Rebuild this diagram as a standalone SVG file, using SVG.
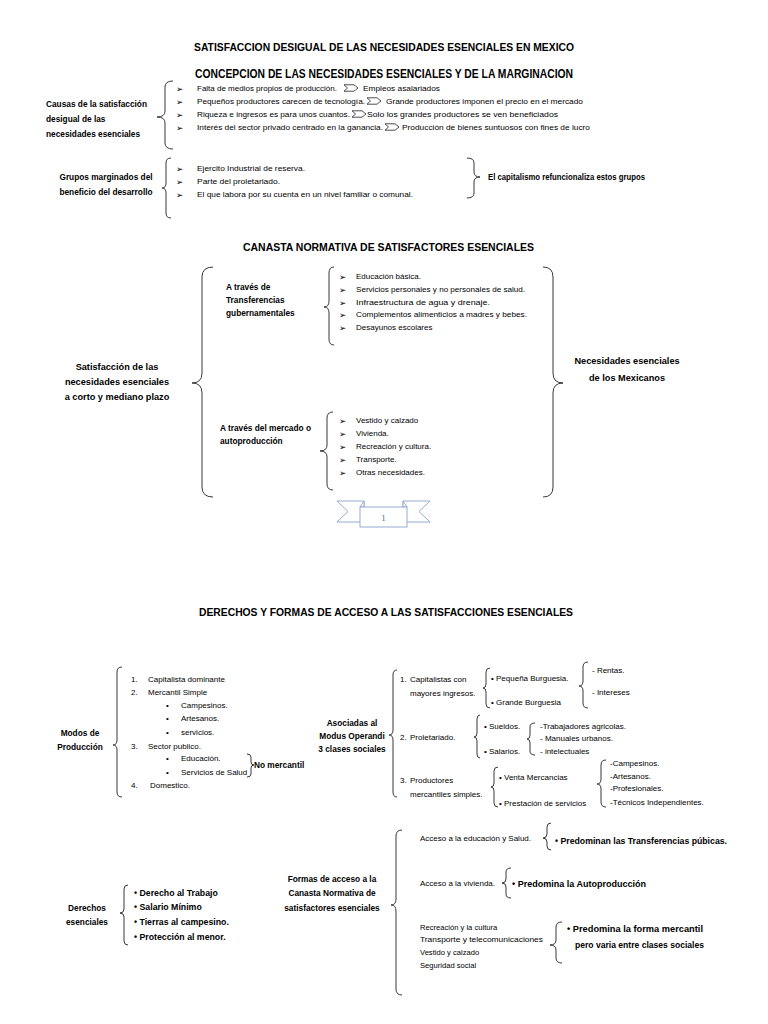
<svg xmlns="http://www.w3.org/2000/svg" width="768" height="1024" viewBox="0 0 768 1024">
<style>
.t{font-family:"Liberation Sans",Arial,sans-serif;font-size:8px;fill:#000}
.s{font-family:"Liberation Sans",Arial,sans-serif;font-size:7.6px;fill:#000}
.b{font-family:"Liberation Sans",Arial,sans-serif;font-size:8.3px;font-weight:bold;fill:#000}
.bm{font-family:"Liberation Sans",Arial,sans-serif;font-size:9.2px;font-weight:bold;fill:#000}
.bl{font-family:"Liberation Sans",Arial,sans-serif;font-size:9.6px;font-weight:bold;fill:#000}
.h{font-family:"Liberation Sans",Arial,sans-serif;font-size:11.5px;font-weight:bold;fill:#000}
.c{text-anchor:middle}
.ar{font-family:"DejaVu Sans",sans-serif;font-size:8.5px;font-weight:bold;fill:#000}
.br{fill:none;stroke:#222;stroke-width:0.9;stroke-linejoin:round}
.na{fill:#fff;stroke:#222;stroke-width:0.8}
.rb{fill:#fff;stroke:#8ba3cc;stroke-width:0.9}
.pg{font-family:"Liberation Serif","Times New Roman",serif;font-size:9px;fill:#4f6fa0}
</style>
<defs>
<path id="notch" d="M0,-3.2 L10,-3.2 L14,0 L10,3.2 L0,3.2 L3.5,0 Z"/>
</defs>
<rect width="768" height="1024" fill="#fff"/>

<g id="titles">
<text class="h c" x="384" y="50.5" textLength="380" lengthAdjust="spacingAndGlyphs">SATISFACCION DESIGUAL DE LAS NECESIDADES ESENCIALES EN MEXICO</text>
<text class="h c" x="384" y="78" style="font-size:12.5px" textLength="378" lengthAdjust="spacingAndGlyphs">CONCEPCION DE LAS NECESIDADES ESENCIALES Y DE LA MARGINACION</text>
<text class="h c" x="388.5" y="250.5" textLength="291" lengthAdjust="spacingAndGlyphs">CANASTA NORMATIVA DE SATISFACTORES ESENCIALES</text>
<text class="h c" x="386" y="615.5" textLength="374" lengthAdjust="spacingAndGlyphs">DERECHOS Y FORMAS DE ACCESO A LAS SATISFACCIONES ESENCIALES</text>
</g>

<g id="connectors">
<path class="br" d="M173,81 Q165,81 165,87 L165,111 Q165,117 157,117 Q165,117 165,123 L165,143 Q165,149 173,149"/>
<path class="br" d="M171,158 Q166,158 166,163 L166,183 Q166,188 162,188 Q166,188 166,193 L166,213 Q166,218 171,218"/>
<path class="br" d="M467,158 Q474,158 474,163 L474,172 Q474,177 480,177 Q474,177 474,182 L474,193 Q474,198 467,198"/>
<path class="br" d="M213,267 Q202,267 202,277 L202,373 Q202,383 192,383 Q202,383 202,393 L202,487 Q202,497 213,497"/>
<path class="br" d="M334,267 Q329,267 329,273 L329,301 Q329,307 324,307 Q329,307 329,313 L329,339 Q329,345 334,345"/>
<path class="br" d="M333,412 Q327,412 327,418 L327,445 Q327,451 320,451 Q327,451 327,457 L327,484 Q327,490 333,490"/>
<path class="br" d="M543,267 Q553,267 553,277 L553,373 Q553,383 563,383 Q553,383 553,393 L553,487 Q553,497 543,497"/>
<path class="br" d="M122,667 Q117,667 117,672 L117,740 Q117,745 113,745 Q117,745 117,750 L117,792 Q117,797 122,797"/>
<path class="br" d="M247,754 Q251,754 251,757 L251,762 Q251,765 254,765 Q251,765 251,768 L251,774 Q251,777 247,777"/>
<path class="br" d="M397,670 Q393,670 393,675 L393,730 Q393,735 389,735 Q393,735 393,740 L393,792 Q393,797 397,797"/>
<path class="br" d="M490,668 Q486,668 486,672 L486,684 Q486,688 483,688 Q486,688 486,692 L486,704 Q486,708 490,708"/>
<path class="br" d="M588,662 Q583,662 583,667 L583,681 Q583,686 579,686 Q583,686 583,691 L583,703 Q583,708 588,708"/>
<path class="br" d="M480,715 Q477,715 477,719 L477,733 Q477,737 474,737 Q477,737 477,741 L477,754 Q477,758 480,758"/>
<path class="br" d="M535,723 Q530,723 530,727 L530,735 Q530,739 527,739 Q530,739 530,743 L530,751 Q530,755 535,755"/>
<path class="br" d="M498,767 Q494,767 494,771 L494,783 Q494,787 491,787 Q494,787 494,791 L494,803 Q494,807 498,807"/>
<path class="br" d="M606,760 Q601,760 601,765 L601,779 Q601,784 597,784 Q601,784 601,789 L601,802 Q601,807 606,807"/>
<path class="br" d="M128,885 Q124,885 124,889 L124,909 Q124,913 120,913 Q124,913 124,917 L124,941 Q124,945 128,945"/>
<path class="br" d="M402,830 Q396,830 396,836 L396,899 Q396,905 391,905 Q396,905 396,911 L396,989 Q396,995 402,995"/>
<path class="br" d="M551,823 Q547,823 547,827 L547,834 Q547,838 543,838 Q547,838 547,842 L547,846 Q547,850 551,850"/>
<path class="br" d="M511,868 Q506,868 506,872 L506,879 Q506,883 502,883 Q506,883 506,887 L506,894 Q506,898 511,898"/>
<path class="br" d="M562,922 Q556,922 556,927 L556,940 Q556,945 550,945 Q556,945 556,950 L556,958 Q556,963 562,963"/>
<use href="#notch" class="na" x="344" y="88"/>
<use href="#notch" class="na" x="367" y="101"/>
<use href="#notch" class="na" x="352" y="114"/>
<use href="#notch" class="na" x="385" y="127"/>
</g>

<g id="causas">
<text class="b" x="46" y="106.5">Causas de la satisfacción</text>
<text class="b" x="46" y="121.5">desigual de las</text>
<text class="b" x="46" y="136.5">necesidades esenciales</text>
</g>
<g id="causas-lista">
<text class="ar" x="176" y="91.5">➢</text><text class="ar" x="176" y="104.5">➢</text><text class="ar" x="176" y="117.5">➢</text><text class="ar" x="176" y="130.5">➢</text>
<text class="t" x="197" y="91" textLength="140" lengthAdjust="spacingAndGlyphs">Falta de medios propios de producción.</text>
<text class="t" x="363" y="91" textLength="77" lengthAdjust="spacingAndGlyphs">Empleos asalariados</text>
<text class="t" x="197" y="104" textLength="168" lengthAdjust="spacingAndGlyphs">Pequeños productores carecen de tecnología.</text>
<text class="t" x="386" y="104" textLength="197" lengthAdjust="spacingAndGlyphs">Grande productores imponen el precio en el mercado</text>
<text class="t" x="197" y="117" textLength="153" lengthAdjust="spacingAndGlyphs">Riqueza e ingresos es para unos cuantos.</text>
<text class="t" x="367" y="117" textLength="191" lengthAdjust="spacingAndGlyphs">Solo los grandes productores se ven beneficiados</text>
<text class="t" x="197" y="130" textLength="186" lengthAdjust="spacingAndGlyphs">Interés del sector privado centrado en la ganancia.</text>
<text class="t" x="402" y="130" textLength="188" lengthAdjust="spacingAndGlyphs">Producción de bienes suntuosos con fines de lucro</text>
</g>

<g id="grupos">
<text class="b c" x="106" y="180">Grupos marginados del</text>
<text class="b c" x="106" y="195">beneficio del desarrollo</text>
</g>
<g id="grupos-lista">
<text class="ar" x="176" y="171.5">➢</text><text class="ar" x="176" y="184.5">➢</text><text class="ar" x="176" y="197.5">➢</text>
<text class="t" x="197" y="171" textLength="108" lengthAdjust="spacingAndGlyphs">Ejercito Industrial de reserva.</text>
<text class="t" x="197" y="184" textLength="83" lengthAdjust="spacingAndGlyphs">Parte del proletariado.</text>
<text class="t" x="197" y="197" textLength="216" lengthAdjust="spacingAndGlyphs">El que labora por su cuenta en un nivel familiar o comunal.</text>
</g>
<g id="refuncionaliza">
<text class="b" x="488" y="180" textLength="157" lengthAdjust="spacingAndGlyphs">El capitalismo refuncionaliza estos grupos</text>
</g>

<g id="satisfaccion">
<text class="bm c" x="117" y="369.5">Satisfacción de las</text>
<text class="bm c" x="117" y="384.5">necesidades esenciales</text>
<text class="bm c" x="117" y="399.5">a corto y mediano plazo</text>
</g>
<g id="transferencias">
<text class="b" x="226" y="290">A través de</text>
<text class="b" x="226" y="303">Transferencias</text>
<text class="b" x="226" y="316">gubernamentales</text>
</g>
<g id="transferencias-lista">
<text class="ar" x="339" y="279.5">➢</text><text class="ar" x="339" y="292.5">➢</text><text class="ar" x="339" y="305.5">➢</text><text class="ar" x="339" y="317.5">➢</text><text class="ar" x="339" y="330.5">➢</text>
<text class="t" x="356" y="279">Educación básica.</text>
<text class="t" x="356" y="292" textLength="169" lengthAdjust="spacingAndGlyphs">Servicios personales y no personales de salud.</text>
<text class="t" x="356" y="305" textLength="134" lengthAdjust="spacingAndGlyphs">Infraestructura de agua y drenaje.</text>
<text class="t" x="356" y="317" textLength="171" lengthAdjust="spacingAndGlyphs">Complementos alimenticios a madres y bebes.</text>
<text class="t" x="356" y="330">Desayunos escolares</text>
</g>
<g id="mercado">
<text class="b" x="220" y="431">A través del mercado o</text>
<text class="b" x="220" y="444">autoproducción</text>
</g>
<g id="mercado-lista">
<text class="ar" x="339" y="423.5">➢</text><text class="ar" x="339" y="436.5">➢</text><text class="ar" x="339" y="449.5">➢</text><text class="ar" x="339" y="462.5">➢</text><text class="ar" x="339" y="475.5">➢</text>
<text class="t" x="356" y="423">Vestido y calzado</text>
<text class="t" x="356" y="436">Vivienda.</text>
<text class="t" x="356" y="449">Recreación y cultura.</text>
<text class="t" x="356" y="462">Transporte.</text>
<text class="t" x="356" y="475">Otras necesidades.</text>
</g>
<g id="necesidades">
<text class="bm c" x="627" y="363.5">Necesidades esenciales</text>
<text class="bm c" x="627" y="380.5">de los Mexicanos</text>
</g>
<g id="pagina">
<path class="rb" d="M337,501 L364,501 L364,522 L337,522 L348,511.5 Z"/>
<path class="rb" d="M430,501 L403,501 L403,522 L430,522 L419,511.5 Z"/>
<path class="rb" d="M360,507 L364,501 L364,507 Z"/>
<path class="rb" d="M407,507 L403,501 L403,507 Z"/>
<rect class="rb" x="360" y="507" width="47" height="20"/>
<text class="pg c" x="383.5" y="520.5">1</text>
</g>

<g id="modos">
<text class="b c" x="80" y="735.5">Modos de</text>
<text class="b c" x="80" y="749.5">Producción</text>
</g>
<g id="modos-lista">
<text class="t" x="131" y="682">1.</text><text class="t" x="148" y="682">Capitalista dominante</text>
<text class="t" x="131" y="695">2.</text><text class="t" x="148" y="695">Mercantil Simple</text>
<text class="t" x="166" y="708">•</text><text class="t" x="181" y="708">Campesinos.</text>
<text class="t" x="166" y="721">•</text><text class="t" x="181" y="721">Artesanos.</text>
<text class="t" x="166" y="735">•</text><text class="t" x="181" y="735">servicios.</text>
<text class="t" x="131" y="749">3.</text><text class="t" x="148" y="749">Sector publico.</text>
<text class="t" x="166" y="761">•</text><text class="t" x="181" y="761">Educación.</text>
<text class="t" x="166" y="775">•</text><text class="t" x="181" y="775">Servicios de Salud</text>
<text class="t" x="131" y="788">4.</text><text class="t" x="150" y="788">Domestico.</text>
</g>
<g id="no-mercantil">
<text class="b" x="254" y="767.5">No mercantil</text>
</g>
<g id="asociadas">
<text class="b c" x="352" y="725.5">Asociadas al</text>
<text class="b c" x="352" y="738.5">Modus Operandi</text>
<text class="b c" x="352" y="751.5">3 clases sociales</text>
</g>
<g id="clases">
<text class="t" x="400" y="682">1.</text><text class="t" x="410" y="682">Capitalistas con</text>
<text class="t" x="410" y="696">mayores ingresos.</text>
<text class="t" x="491" y="681">• Pequeña Burguesia.</text>
<text class="t" x="491" y="705">• Grande Burguesia</text>
<text class="t" x="592" y="673">- Rentas.</text>
<text class="t" x="592" y="695">- Intereses</text>
<text class="t" x="400" y="740">2.</text><text class="t" x="410" y="740">Proletariado.</text>
<text class="t" x="484" y="729">• Sueldos.</text>
<text class="t" x="484" y="754">• Salarios.</text>
<text class="t" x="540" y="729">-Trabajadores agricolas.</text>
<text class="t" x="540" y="741">- Manuales urbanos.</text>
<text class="t" x="540" y="754">- intelectuales</text>
<text class="t" x="400" y="783">3.</text><text class="t" x="410" y="783">Productores</text>
<text class="t" x="410" y="797">mercantiles simples.</text>
<text class="t" x="499" y="780">• Venta Mercancias</text>
<text class="t" x="499" y="806">• Prestación de servicios</text>
<text class="t" x="610" y="766">-Campesinos.</text>
<text class="t" x="610" y="779">-Artesanos.</text>
<text class="t" x="610" y="791">-Profesionales.</text>
<text class="t" x="610" y="805">-Técnicos Independientes.</text>
</g>

<g id="derechos">
<text class="b c" x="87" y="911">Derechos</text>
<text class="b c" x="87" y="925">esenciales</text>
</g>
<g id="derechos-lista">
<text class="b" x="134" y="896" style="font-size:8.75px">• Derecho al Trabajo</text>
<text class="b" x="134" y="910" style="font-size:8.75px">• Salario Mínimo</text>
<text class="b" x="134" y="925" style="font-size:8.75px">• Tierras al campesino.</text>
<text class="b" x="134" y="940" style="font-size:8.75px">• Protección al menor.</text>
</g>
<g id="formas">
<text class="b c" x="332" y="882">Formas de acceso a la</text>
<text class="b c" x="332" y="896">Canasta Normativa de</text>
<text class="b c" x="332" y="911">satisfactores esenciales</text>
</g>
<g id="accesos">
<text class="s" x="420" y="841" textLength="111" lengthAdjust="spacingAndGlyphs">Acceso a la educación y Salud.</text>
<text class="s" x="420" y="886" textLength="75" lengthAdjust="spacingAndGlyphs">Acceso a la vivienda.</text>
<text class="s" x="420" y="930">Recreación y la cultura</text>
<text class="s" x="420" y="942" textLength="123" lengthAdjust="spacingAndGlyphs">Transporte y telecomunicaciones</text>
<text class="s" x="420" y="955">Vestido y calzado</text>
<text class="s" x="420" y="968">Seguridad social</text>
</g>
<g id="predominan">
<text class="bl" x="555" y="843.5" textLength="172" lengthAdjust="spacingAndGlyphs">• Predominan las Transferencias púbicas.</text>
<text class="bl" x="512" y="887" textLength="134" lengthAdjust="spacingAndGlyphs">• Predomina la Autoproducción</text>
<text class="bl" x="567" y="932" textLength="136" lengthAdjust="spacingAndGlyphs">• Predomina la forma mercantil</text>
<text class="bl" x="575" y="948" textLength="129" lengthAdjust="spacingAndGlyphs">pero varia entre clases sociales</text>
</g>
</svg>
